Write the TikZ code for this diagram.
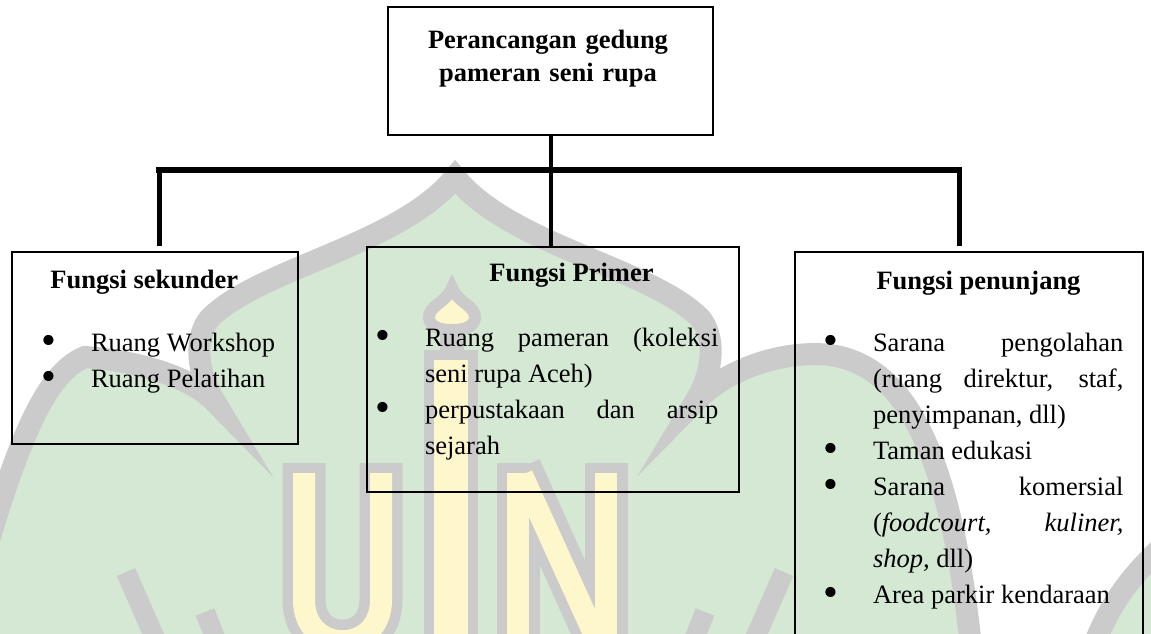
\documentclass[tikz,border=0pt]{standalone}
\usepackage{fontspec}
\setmainfont{Liberation Serif}
\definecolor{hijau}{HTML}{D4E8D3}
\definecolor{abu}{HTML}{CBCBCB}
\definecolor{kuning}{HTML}{FFF7CC}

% tanpa pemenggalan kata
\hyphenpenalty=10000
\exhyphenpenalty=10000
\tolerance=9999

% lebar gantungan untuk butir daftar
\newlength{\bulw}
\setlength{\bulw}{25pt}
\newcommand{\butir}[1]{\noindent\hangindent=\bulw\hangafter=1%
  \hbox to\bulw{\raisebox{-1.8pt}{\scalebox{1.6}{\textbullet}}\hss}#1\par}

\begin{document}
\begin{tikzpicture}[
    x=0.5pt, y=-0.5pt,
    kotak/.style={draw, line width=0.7pt, inner sep=0pt},
    kepala/.style={font=\fontsize{13.25}{16.5}\selectfont\bfseries, inner sep=0pt},
    daftar/.style={font=\fontsize{13.25}{18}\selectfont, align=justify,
      anchor=base west, inner sep=0pt},
    batang/.style={line width=2pt},
    palang/.style={line width=3pt, line cap=rect},
    cabang/.style={line width=2.5pt},
    kubah/.style={draw=abu, fill=hijau, line width=11pt},
    garis/.style={draw=abu, line width=10pt},
    hurufabu/.style={draw=abu, line width=21.5pt},
    hurufisi/.style={draw=kuning, line width=11pt}
  ]
  \useasboundingbox (0,0) rectangle (1151,633);
  \fill[white] (0,0) rectangle (1151,633);

  % logo di latar belakang
  \filldraw[kubah] (-60,690) -- (-40,640)
    .. controls (10,460) and (40,375) .. (85,357)
    .. controls (130,360) and (190,375) .. (215,402)
    .. controls (195,370) and (195,335) .. (210,318)
    .. controls (260,268) and (400,245) .. (455,177)
    .. controls (510,245) and (650,268) .. (700,318)
    .. controls (715,335) and (715,370) .. (695,402)
    .. controls (730,365) and (790,350) .. (830,355)
    .. controls (900,365) and (955,440) .. (975,690)
    -- cycle;
  \filldraw[kubah] (1080,690) .. controls (1100,610) and (1130,575) .. (1175,535)
    -- (1210,535) -- (1210,690) -- cycle;
  \draw[garis] (126,572) -- (160,650);
  \draw[garis] (205,612) -- (220,650);
  \draw[garis] (784,572) -- (750,650);
  \draw[garis] (705,612) -- (690,650);

  % huruf U I N
  \draw[hurufabu] (304,463) -- (304,600) .. controls (304,655) and (381,655) .. (381,600) -- (381,463);
  \draw[hurufabu, line width=27pt] (451,350) -- (451,660);
  \fill[abu] (440,326) rectangle (464,362);
  \draw[hurufabu] (518,660) -- (518,463);
  \draw[hurufabu] (520,468) -- (606,660);
  \draw[hurufabu] (606,660) -- (606,463);
  \draw[hurufisi] (304,473) -- (304,600) .. controls (304,655) and (381,655) .. (381,600) -- (381,473);
  \draw[hurufisi, line width=17pt] (451,360) -- (451,660);
  \draw[hurufisi] (518,660) -- (518,473);
  \draw[hurufisi] (522,475) -- (606,660);
  \draw[hurufisi] (606,660) -- (606,473);
  \filldraw[fill=kuning, draw=abu, line width=6pt]
    (452,288) .. controls (458,303) and (476,306) .. (475,318)
    .. controls (474,326) and (466,330) .. (452,330)
    .. controls (438,330) and (430,326) .. (429,318)
    .. controls (428,306) and (446,303) .. (452,288) -- cycle;

  % kotak-kotak bagan
  \node[kotak, minimum width=162.5pt, minimum height=64pt] (gedung) at (550.5,71) {};
  \node[kotak, minimum width=143pt, minimum height=96pt] (sekunder) at (155,348) {};
  \node[kotak, minimum width=186pt, minimum height=122.5pt] (primer) at (553,369.5) {};
  \node[kotak, minimum width=174pt, minimum height=214pt] (penunjang) at (969,466) {};

  \node[kepala, text width=220pt, align=center, anchor=base] (judul) at (548,48)
    {Perancangan gedung\\pameran seni rupa};

  \node[kepala, anchor=base west] (kpsekunder) at (50,288) {Fungsi sekunder};
  \node[kepala, anchor=base] (kpprimer) at (571.5,281) {Fungsi Primer};
  \node[kepala, anchor=base] (kppenunjang) at (978.5,289) {Fungsi penunjang};

  \node[daftar, text width=140pt] (isisekunder) at (40.6,351) {%
    \butir{Ruang Workshop}
    \butir{Ruang Pelatihan}};
  \node[daftar, text width=171.7pt] (isiprimer) at (374.6,346) {%
    \butir{Ruang pameran (koleksi seni rupa Aceh)}
    \butir{perpustakaan dan arsip sejarah}};
  \node[daftar, text width=150.2pt] (isipenunjang) at (822.6,351) {%
    \butir{Sarana pengolahan (ruang direktur, staf, penyimpanan, dll)}
    \butir{Taman edukasi}
    \butir{Sarana komersial (\textit{foodcourt,} \textit{kuliner,} \textit{shop,} dll)}
    \butir{Area parkir kendaraan}};

  % penghubung
  \coordinate (simpang) at (550,170);
  \coordinate (kiri) at ([xshift=2pt,yshift=2.5pt]sekunder.north);
  \coordinate (kanan) at ([xshift=-5pt,yshift=2.5pt]penunjang.north);
  \draw[batang] (gedung.south) -- (gedung.south |- primer.north);
  \draw[cabang] (kiri) -- (kiri |- simpang);
  \draw[cabang] (kanan) -- (kanan |- simpang);
  \draw[palang] (kiri |- simpang) -- (kanan |- simpang);
\end{tikzpicture}
\end{document}
